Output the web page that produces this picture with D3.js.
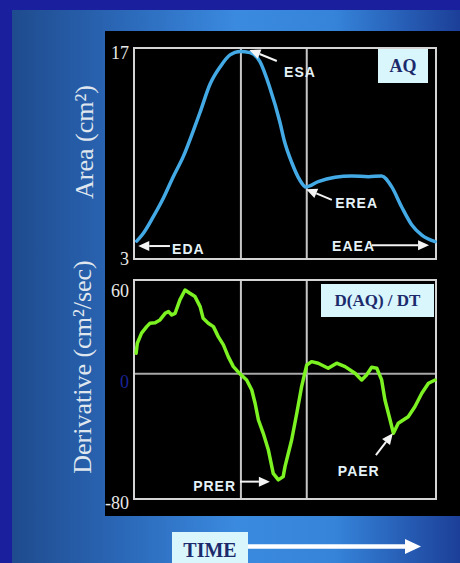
<!DOCTYPE html>
<html>
<head>
<meta charset="utf-8">
<script src="https://cdn.jsdelivr.net/npm/d3@7"></script>
<style>
  html, body { margin: 0; padding: 0; background: #1a1f9e; }
  svg { display: block; }
</style>
</head>
<body>
<svg id="chart" width="460" height="563"></svg>
<script>
// ---------- DATA ----------
const areaTime = [0.9, 3.1, 6.4, 9.7, 13.0, 16.3, 19.6, 21.9, 25.2, 28.5, 31.8, 35.1, 38.4, 41.7, 45.0,
                  48.3, 49.7, 52.3, 54.9, 56.9, 61.0, 66.6, 72.1, 77.6, 82.0, 85.3, 88.6, 92.0, 95.3, 99.7];
const areaValues = [4.19, 4.71, 5.81, 7.03, 8.46, 9.79, 11.49, 12.75, 14.61, 15.74, 16.54, 16.77, 16.69, 16.09, 14.35,
                    12.09, 10.90, 9.37, 8.24, 7.78, 8.13, 8.42, 8.51, 8.46, 8.51, 7.80, 6.47, 5.26, 4.59, 4.15];

const derivTime = [0.7, 1.1, 2.5, 4.2, 5.3, 7.0, 8.6, 10.3, 11.4, 12.5,
                   13.6, 15.2, 16.9, 18.5, 20.2, 21.9, 22.9, 24.6, 26.3, 27.9,
                   29.6, 31.2, 32.9, 35.1, 37.3, 39.0, 40.1, 41.2, 42.8, 44.5,
                   46.1, 47.8, 49.4, 50.0, 52.2, 53.9, 55.5, 57.2, 58.8, 61.0,
                   64.3, 67.1, 69.9, 73.2, 75.4, 77.0, 78.7, 80.4, 82.0, 83.1,
                   84.8, 85.9, 87.5, 90.8, 93.0, 95.3, 97.5, 99.7];
const derivValues = [13.2, 19.6, 26.0, 30.2, 32.4, 32.7, 34.5, 38.7, 39.8, 37.7,
                     38.7, 47.3, 53.6, 51.5, 49.4, 43.0, 35.5, 32.4, 30.2, 23.8,
                     18.5, 11.0, 4.6, 0, -3.9, -10.3, -18.8, -29.5, -38.0, -48.7,
                     -63.6, -67.8, -65.7, -59.3, -42.3, -25.2, -8.2, 5.7, 7.8, 6.8,
                     3.6, 6.8, 4.6, 0.4, -3.9, -0.7, 4.2, 3.6, -3.9, -16.7,
                     -29.5, -38.0, -31.6, -27.4, -21.0, -12.4, -6.0, -3.9];

const areaTicks = [17, 3];
const derivTicks = [60, 0, -80];
const markerTimes = [35.4, 57.2];   // event lines (end systole, end rapid ejection)

const areaTitle = "Area (cm²)";
const derivTitle = "Derivative (cm²/sec)";
const areaTag = "AQ";
const derivTag = "D(AQ) / DT";
const timeLabel = "TIME";

// annotations in data units: arrow tip, arrow tail, label anchor
const areaNotes = [
  { label: "ESA",  tip: [38.2, 16.87], tail: [47.3, 16.14], text: [49.7, 15.08], anchor: "start" },
  { label: "EREA", tip: [57.0, 7.63],  tail: [65.5, 6.92],  text: [66.6, 6.38],  anchor: "start" },
  { label: "EDA",  tip: [1.4, 3.86],   tail: [11.9, 3.86],  text: [12.6, 3.33],  anchor: "start" },
  { label: "EAEA", tip: [97.7, 3.91],  tail: [78.8, 3.91],  text: [65.6, 3.53],  anchor: "start" }
];
const derivNotes = [
  { label: "PRER", tip: [45.0, -68.9], tail: [35.1, -68.9], text: [33.8, -74.9], anchor: "end" },
  { label: "PAER", tip: [85.7, -38.0], tail: [80.1, -51.9], text: [67.5, -65.3], anchor: "start" }
];

// ---------- DRAW ----------
const svg = d3.select("#chart");
const defs = svg.append("defs");
const grad = defs.append("linearGradient").attr("id", "bg").attr("x1", "0").attr("x2", "1").attr("y1", "0").attr("y2", "0");
[[0, "#1f4b8e"], [0.25, "#2b68b8"], [0.5, "#3a8ae0"], [0.72, "#3584da"], [1, "#1c3f98"]]
  .forEach(([o, c]) => grad.append("stop").attr("offset", o).attr("stop-color", c));

svg.append("rect").attr("width", 460).attr("height", 563).attr("fill", "#1a1f9e");
svg.append("rect").attr("x", 12).attr("y", 10).attr("width", 448).attr("height", 553).attr("fill", "url(#bg)");
svg.append("rect").attr("x", 105).attr("y", 31).attr("width", 355).attr("height", 485).attr("fill", "#000");

const x = d3.scaleLinear().domain([0, 100]).range([134, 436]);
const yTop = d3.scaleLinear().domain([3, 17]).range([259, 48]);
const yBot = d3.scaleLinear().domain([-80, 60]).range([499, 280]);

const serif = "'Liberation Serif', 'Times New Roman', serif";
const sans = "'Liberation Sans', Arial, sans-serif";

function panel(y, time, values, ticks, tickOffsets, tickColors, color, zeroLine) {
  const g = svg.append("g");
  const [y0, y1] = y.range();
  // event lines
  g.selectAll("line.marker").data(markerTimes).join("line")
    .attr("x1", d => x(d)).attr("x2", d => x(d)).attr("y1", y1).attr("y2", y0)
    .attr("stroke", "#c8c8c8").attr("stroke-width", 2);
  if (zeroLine) {
    g.append("line").attr("x1", x(0)).attr("x2", x(100)).attr("y1", y(0)).attr("y2", y(0))
      .attr("stroke", "#a8a8a8").attr("stroke-width", 2);
  }
  // frame
  g.append("rect").attr("x", x(0)).attr("y", y1).attr("width", x(100) - x(0)).attr("height", y0 - y1)
    .attr("fill", "none").attr("stroke", "#d4d4d4").attr("stroke-width", 2);
  // ticks
  g.selectAll("text.tick").data(ticks).join("text")
    .attr("x", 129).attr("y", (d, i) => y(d) + tickOffsets[i])
    .attr("text-anchor", "end").attr("font-family", serif).attr("font-size", 18)
    .attr("fill", (d, i) => tickColors[i]).text(d => d);
  // curve
  const pts = time.map((t, i) => [t, values[i]]);
  g.append("path").datum(pts)
    .attr("d", d3.line().x(d => x(d[0])).y(d => y(d[1])).curve(zeroLine ? d3.curveLinear : d3.curveMonotoneX))
    .attr("fill", "none").attr("stroke", color).attr("stroke-width", 3.5)
    .attr("stroke-linejoin", "round").attr("stroke-linecap", "round");
  return g;
}

function arrow(g, x1, y1, x2, y2, width, headLen, headHalf, color) {
  const a = Math.atan2(y2 - y1, x2 - x1);
  const bx = x2 - headLen * Math.cos(a), by = y2 - headLen * Math.sin(a);
  g.append("line").attr("x1", x1).attr("y1", y1).attr("x2", bx).attr("y2", by)
    .attr("stroke", color).attr("stroke-width", width);
  const px = -Math.sin(a) * headHalf, py = Math.cos(a) * headHalf;
  g.append("path").attr("d", `M${x2},${y2}L${bx + px},${by + py}L${bx - px},${by - py}Z`).attr("fill", color);
}

function notes(g, y, list) {
  list.forEach(n => {
    arrow(g, x(n.tail[0]), y(n.tail[1]), x(n.tip[0]), y(n.tip[1]), 2, 11, 5, "#f4f4f4");
    g.append("text").attr("x", x(n.text[0])).attr("y", y(n.text[1]))
      .attr("text-anchor", n.anchor).attr("font-family", sans).attr("font-weight", "bold")
      .attr("font-size", 14).attr("letter-spacing", 1).attr("fill", "#e4f2f8").text(n.label);
  });
}

function tag(g, x0, y0, w, h, label, size) {
  g.append("rect").attr("x", x0).attr("y", y0).attr("width", w).attr("height", h).attr("fill", "#d8f6fc");
  g.append("text").attr("x", x0 + w / 2).attr("y", y0 + h / 2).attr("dy", "0.35em")
    .attr("text-anchor", "middle").attr("font-family", serif).attr("font-weight", "bold")
    .attr("font-size", size).attr("fill", "#1c2a6c").text(label);
}

const gTop = panel(yTop, areaTime, areaValues, areaTicks, [11, 6], ["#e8e8e8", "#e8e8e8"], "#44aae6", false);
const gBot = panel(yBot, derivTime, derivValues, derivTicks, [16.5, 14, 10], ["#e8e8e8", "#1a2496", "#e8e8e8"], "#7cf222", true);

notes(gTop, yTop, areaNotes);
notes(gBot, yBot, derivNotes);

tag(gTop, 378, 49, 50, 34, areaTag, 18);
tag(gBot, 321, 284, 113, 33, derivTag, 17);

// axis titles
svg.append("text").attr("transform", "translate(93,142) rotate(-90)")
  .attr("text-anchor", "middle").attr("font-family", serif).attr("font-size", 26)
  .attr("fill", "#dfe6ee").text(areaTitle);
svg.append("text").attr("transform", "translate(91,367) rotate(-90)")
  .attr("text-anchor", "middle").attr("font-family", serif).attr("font-size", 26)
  .attr("fill", "#dfe6ee").text(derivTitle);

// time label + arrow
const gTime = svg.append("g");
gTime.append("rect").attr("x", 172).attr("y", 532).attr("width", 76).attr("height", 31).attr("fill", "#d8f6fc");
gTime.append("text").attr("x", 210).attr("y", 557).attr("text-anchor", "middle")
  .attr("font-family", serif).attr("font-weight", "bold").attr("font-size", 20)
  .attr("fill", "#1c2a6c").text(timeLabel);
arrow(gTime, 248, 546.5, 421, 546.5, 4.5, 16, 7.5, "#ffffff");
</script>
</body>
</html>
